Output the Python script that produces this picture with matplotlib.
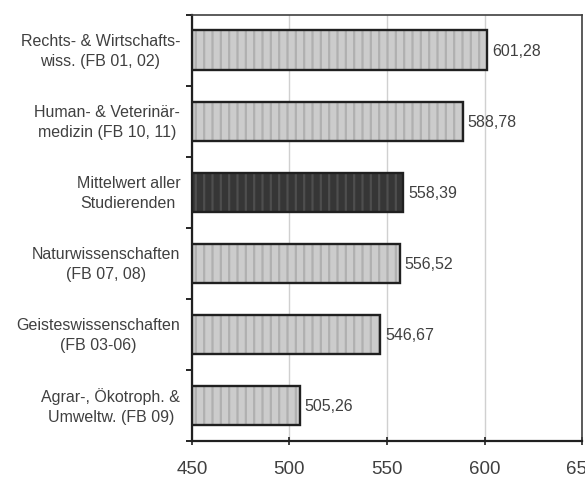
import matplotlib.pyplot as plt

# Fachbereiche, von oben nach unten
labels = [
    'Rechts- & Wirtschafts-\nwiss. (FB 01, 02)',
    'Human- & Veterinär-\nmedizin (FB 10, 11)',
    'Mittelwert aller\nStudierenden',
    'Naturwissenschaften\n(FB 07, 08)',
    'Geisteswissenschaften\n(FB 03-06)',
    'Agrar-, Ökotroph. &\nUmweltw. (FB 09)',
]
values = [601.28, 588.78, 558.39, 556.52, 546.67, 505.26]
is_mean = [False, False, True, False, False, False]

plt.rcParams['font.family'] = ['Liberation Sans', 'DejaVu Sans']
plt.rcParams['hatch.linewidth'] = 1.6

fig = plt.figure(figsize=(5.85, 4.81), dpi=100)
ax = fig.add_axes([0.328, 0.081, 0.667, 0.886])

pos = list(range(len(labels)))[::-1]
for y, v, m in zip(pos, values, is_mean):
    face = '#363636' if m else '#cccccc'
    hc = '#4e4e4e' if m else '#b0b0b0'
    ax.barh(y, v - 450, left=450, height=0.56, color=face,
            edgecolor=hc, hatch='||', linewidth=0, zorder=3)
    # schwarzer Rahmen separat, damit die Schraffur grau bleibt
    ax.barh(y, v - 450, left=450, height=0.56, fill=False,
            edgecolor='#202020', linewidth=1.7, zorder=4)
    ax.text(v + 2.5, y, f'{v:.2f}'.replace('.', ','), va='center',
            ha='left', fontsize=11.5, color='#404040')

ax.set_xlim(450, 650)
ax.set_ylim(-0.5, 5.5)
ax.set_xticks([450, 500, 550, 600, 650])
ax.xaxis.grid(True, color='#d0d0d0', linewidth=1, zorder=0)
ax.tick_params(axis='x', direction='inout', length=6, width=1.2,
               labelsize=13.5, colors='#202020', labelcolor='#404040',
               pad=11)

# Kategorienbeschriftung zwischen den Teilstrichen
ax.set_yticks([p + 0.5 for p in range(-1, 6)])
ax.set_yticklabels([])
ax.tick_params(axis='y', direction='out', length=4, width=1.2)
for y, lab in zip(pos, labels):
    ax.text(-0.03, y, lab, transform=ax.get_yaxis_transform(),
            ha='right', va='center', fontsize=11.5, color='#404040',
            linespacing=1.45, multialignment='center')

for s in ['left', 'bottom']:
    ax.spines[s].set_linewidth(1.6)
    ax.spines[s].set_color('#202020')
for s in ['top', 'right']:
    ax.spines[s].set_linewidth(1.2)
    ax.spines[s].set_color('#404040')

fig.savefig('out.png', dpi=100)
